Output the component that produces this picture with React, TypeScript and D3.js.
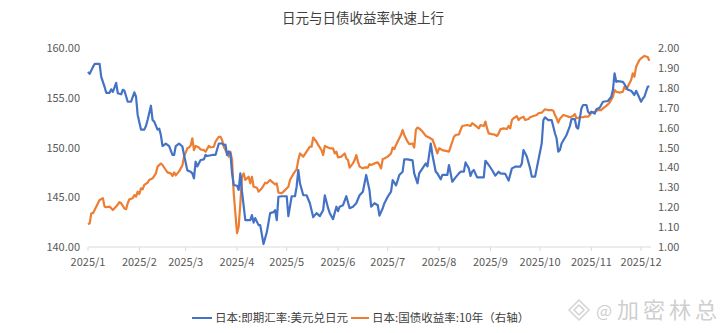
import React from "react";
import * as d3 from "d3";

// [day offset from 2025-01-01, value]
const usdJpy: [number, number][] = [
  [0,157.6],[1,157.4],[3,158.1],[4,158.4],[7,158.4],[8,157.1],[10,156.1],[11,155.5],[13,155.5],[14,155.85],[15,155.6],[17,156.5],[18,155.45],[20,155.35],[21,155.8],[22,155.7],[24,154.6],[26,154.6],[28,155.55],[29,155.1],[30,153.27],[32,151.8],[34,151.8],[35,152.16],[36,152.76],[38,154.2],[39,152.76],[40,152.6],[42,151.8],[43,151.9],[44,151.25],[45,150.15],[47,150.4],[49,150.15],[51,149.25],[52,149.25],[53,150.15],[55,150.4],[57,150.1],[58,149.25],[60,147.7],[62,147.57],[63,147.4],[64,146.9],[65,148.57],[66,148.1],[68,148.74],[70,148.8],[71,149.25],[72,149.15],[75,149.25],[77,149.25],[79,150.4],[81,150.4],[82,150.25],[83,150.3],[84,149.25],[85,149.6],[86,149.4],[87,147.4],[88,146.23],[90,146.16],[91,145.73],[92,147.4],[93,145.56],[95,142.7],[98,142.7],[99,143.2],[100,142.45],[101,142.9],[103,142.2],[104,142.2],[106,140.3],[108,141.5],[110,143.4],[112,143.5],[113,143.7],[114,142.7],[115,145.05],[117,145.1],[120,145.1],[121,143.1],[123,145.1],[125,145.1],[126,146.06],[127,147.74],[128,146.4],[130,145.2],[132,145.2],[134,144.4],[136,143.0],[138,143.4],[140,143.1],[142,143.7],[143,145.2],[145,143.9],[146,143.4],[148,142.8],[150,144.05],[151,143.6],[152,144.05],[154,144.2],[156,145.1],[158,143.9],[160,144.05],[162,144.4],[164,145.2],[166,145.56],[168,147.24],[170,145.7],[171,144.05],[173,144.4],[175,144.2],[176,143.15],[178,143.9],[179,144.4],[181,145.05],[183,145.56],[184,146.73],[186,146.2],[187,146.7],[188,147.24],[190,147.57],[191,148.8],[193,148.8],[196,148.7],[197,147.4],[199,146.4],[200,147.4],[202,147.9],[204,148.4],[205,148.1],[207,150.4],[208,149.25],[210,147.57],[211,147.4],[213,146.8],[214,147.24],[217,147.24],[218,148.24],[219,147.4],[220,146.56],[222,147.0],[224,147.4],[225,147.57],[227,147.57],[228,148.5],[230,147.9],[231,147.14],[232,147.57],[233,147.74],[235,147.0],[237,147.0],[239,147.0],[240,148.67],[242,148.24],[244,147.74],[246,147.17],[248,147.57],[249,147.4],[252,147.35],[254,146.67],[256,147.9],[258,148.07],[261,148.07],[262,148.4],[263,149.75],[265,149.1],[267,147.9],[268,147.07],[270,147.07],[272,148.74],[274,150.4],[275,152.76],[276,153.03],[278,152.76],[280,152.76],[282,151.43],[283,150.9],[284,149.58],[285,149.75],[286,150.4],[289,151.26],[291,152.16],[292,152.86],[294,152.86],[295,152.03],[296,151.9],[298,153.94],[299,154.27],[301,154.27],[302,153.6],[303,153.4],[304,153.6],[306,153.4],[307,153.84],[309,154.0],[311,154.6],[314,154.67],[316,155.1],[317,155.8],[318,157.46],[319,156.6],[320,156.67],[323,156.6],[324,156.36],[326,155.8],[328,155.7],[330,155.28],[331,155.7],[332,155.35],[334,154.6],[335,154.9],[336,155.1],[338,156.1],[339,156.16]
];

// [day offset from 2025-01-01, yield %]
const jgb10y: [number, number][] = [
  [0,1.114],[1,1.119],[2,1.169],[3,1.17],[4,1.186],[6,1.22],[7,1.236],[9,1.245],[10,1.203],[11,1.2],[13,1.203],[15,1.186],[17,1.203],[19,1.225],[20,1.22],[22,1.194],[23,1.19],[24,1.22],[25,1.24],[27,1.245],[28,1.261],[29,1.253],[30,1.278],[31,1.266],[32,1.295],[33,1.29],[34,1.312],[36,1.323],[37,1.337],[39,1.345],[41,1.37],[42,1.404],[44,1.42],[45,1.412],[47,1.387],[48,1.375],[50,1.37],[51,1.357],[52,1.375],[53,1.36],[55,1.38],[56,1.395],[57,1.41],[58,1.454],[60,1.496],[61,1.5],[62,1.51],[63,1.546],[64,1.487],[65,1.508],[67,1.5],[68,1.49],[70,1.487],[71,1.479],[73,1.508],[74,1.5],[76,1.504],[77,1.529],[79,1.554],[80,1.554],[81,1.537],[82,1.504],[83,1.487],[85,1.454],[86,1.479],[87,1.437],[88,1.27],[89,1.169],[90,1.069],[91,1.102],[92,1.22],[93,1.353],[94,1.37],[95,1.337],[97,1.353],[98,1.32],[99,1.353],[100,1.303],[102,1.298],[103,1.278],[105,1.295],[107,1.323],[108,1.32],[110,1.337],[111,1.328],[113,1.315],[114,1.32],[115,1.273],[117,1.27],[119,1.286],[121,1.303],[122,1.337],[124,1.367],[126,1.39],[127,1.437],[128,1.47],[129,1.462],[130,1.454],[132,1.479],[134,1.504],[135,1.504],[136,1.55],[138,1.529],[139,1.513],[141,1.487],[142,1.462],[143,1.508],[144,1.504],[146,1.496],[147,1.496],[148,1.496],[149,1.47],[150,1.479],[151,1.45],[153,1.454],[154,1.462],[155,1.47],[156,1.445],[157,1.437],[158,1.399],[160,1.42],[161,1.437],[162,1.462],[163,1.429],[164,1.404],[166,1.395],[167,1.4],[169,1.399],[170,1.416],[171,1.412],[173,1.42],[175,1.425],[176,1.412],[177,1.395],[178,1.442],[179,1.445],[181,1.454],[183,1.47],[184,1.5],[185,1.492],[186,1.513],[188,1.546],[189,1.563],[190,1.588],[191,1.563],[193,1.529],[194,1.517],[196,1.52],[197,1.5],[198,1.588],[199,1.6],[200,1.596],[202,1.58],[204,1.558],[206,1.55],[208,1.54],[209,1.52],[210,1.496],[211,1.47],[212,1.496],[214,1.487],[216,1.483],[218,1.479],[219,1.504],[220,1.529],[221,1.554],[222,1.563],[224,1.566],[225,1.588],[226,1.608],[229,1.613],[231,1.608],[232,1.622],[234,1.61],[236,1.596],[237,1.613],[239,1.608],[240,1.63],[241,1.596],[242,1.571],[244,1.567],[245,1.566],[247,1.558],[248,1.571],[249,1.591],[251,1.596],[253,1.593],[254,1.608],[255,1.596],[256,1.638],[257,1.647],[259,1.658],[260,1.638],[261,1.647],[263,1.655],[264,1.638],[266,1.643],[267,1.652],[269,1.658],[271,1.663],[272,1.672],[274,1.675],[276,1.692],[278,1.688],[280,1.688],[281,1.685],[282,1.663],[283,1.647],[284,1.625],[285,1.645],[287,1.663],[289,1.658],[290,1.655],[291,1.652],[293,1.658],[294,1.668],[295,1.647],[297,1.652],[299,1.652],[300,1.655],[302,1.655],[303,1.663],[304,1.675],[306,1.68],[308,1.688],[310,1.688],[311,1.697],[313,1.709],[315,1.725],[317,1.755],[318,1.789],[319,1.78],[321,1.776],[323,1.78],[324,1.806],[325,1.793],[326,1.806],[328,1.839],[329,1.873],[330,1.856],[331,1.906],[333,1.94],[334,1.948],[336,1.96],[338,1.955],[339,1.936]
];

const leftTicks = [140, 145, 150, 155, 160];
const rightTicks = [1.0, 1.1, 1.2, 1.3, 1.4, 1.5, 1.6, 1.7, 1.8, 1.9, 2.0];
const monthLabels = ["2025/1","2025/2","2025/3","2025/4","2025/5","2025/6","2025/7","2025/8","2025/9","2025/10","2025/11","2025/12"];

const title = "日元与日债收益率快速上行";
const seriesNames = ["日本:即期汇率:美元兑日元", "日本:国债收益率:10年（右轴）"];
const watermark = "加密林总";

const BLUE = "#4472C4";
const ORANGE = "#ED7D31";
const FONT = "'Noto Sans CJK SC', 'Noto Sans', sans-serif";

export default function App() {
  const W = 726, H = 333;
  const start = new Date(2025, 0, 1);
  const toDate = (d: number) => d3.timeDay.offset(start, d);
  const x = d3.scaleTime().domain([start, toDate(340)]).range([88, 651]);
  const yL = d3.scaleLinear().domain([140, 160]).range([247, 48]);
  const yR = d3.scaleLinear().domain([1, 2]).range([247, 48]);

  const lineL = d3.line<[number, number]>().x(d => x(toDate(d[0]))).y(d => yL(d[1]));
  const lineR = d3.line<[number, number]>().x(d => x(toDate(d[0]))).y(d => yR(d[1]));

  const monthDates = monthLabels.map((_, i) => new Date(2025, i, 1));
  const axisY = yL(140);

  return (
    <svg width={W} height={H} style={{ position: "absolute", left: 0, top: 0, background: "#fff" }} fontFamily={FONT}>
      <rect width={W} height={H} fill="#fff" />
      <text x={363} y={23} textAnchor="middle" fontSize={13.5} fill="#404040">{title}</text>

      {leftTicks.map(t => (
        <text key={"l" + t} x={80} y={yL(t) + 4} textAnchor="end" fontSize={11} fill="#595959">{t.toFixed(2)}</text>
      ))}
      {rightTicks.map(t => (
        <text key={"r" + t} x={658} y={yR(t) + 4} textAnchor="start" fontSize={11} fill="#595959">{t.toFixed(2)}</text>
      ))}

      <line x1={x.range()[0]} x2={x.range()[1]} y1={axisY} y2={axisY} stroke="#d9d9d9" strokeWidth={1} />
      {monthDates.map((d, i) => (
        <g key={"m" + i}>
          <line x1={x(d)} x2={x(d)} y1={axisY} y2={axisY + 4} stroke="#d9d9d9" />
          <text x={x(d)} y={axisY + 19} textAnchor="middle" fontSize={11} fill="#595959">{monthLabels[i]}</text>
        </g>
      ))}

      <path d={lineR(jgb10y) || ""} fill="none" stroke={ORANGE} strokeWidth={2.2} strokeLinejoin="round" />
      <path d={lineL(usdJpy) || ""} fill="none" stroke={BLUE} strokeWidth={2.2} strokeLinejoin="round" />

      <g fontSize={11.5} fill="#404040">
        <line x1={192} x2={212} y1={318} y2={318} stroke={BLUE} strokeWidth={2} />
        <text x={215} y={322}>{seriesNames[0]}</text>
        <line x1={351} x2={369} y1={318} y2={318} stroke={ORANGE} strokeWidth={2} />
        <text x={372} y={322}>{seriesNames[1]}</text>
      </g>

      <g fill="none" stroke="#d4d4d4" strokeWidth={1.5}>
        <path d="M579,300 L589,310 L579,320 L569,310 Z" />
        <path d="M579,305 L584,310 L579,315 L574,310 Z" />
      </g>
      <text x={596} y={317} fontSize={17} fill="#cfcfcf">@</text>
      <text x={617} y={318} fontSize={22} fill="#cfcfcf" letterSpacing={4}>{watermark}</text>
    </svg>
  );
}
